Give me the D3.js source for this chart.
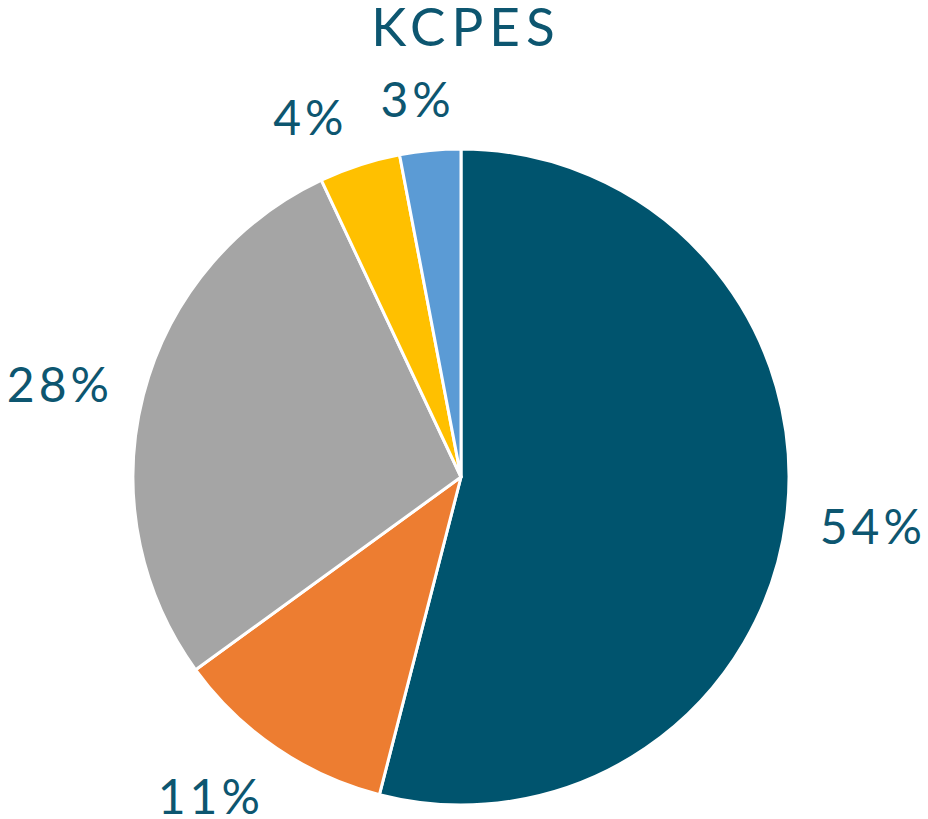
<!DOCTYPE html>
<html><head><meta charset="utf-8">
<script src="https://cdn.jsdelivr.net/npm/d3@7"></script>
<style>html,body{margin:0;padding:0;background:#fff;}svg{display:block;}</style>
</head><body>
<svg id="chart" width="928" height="819"></svg>
<script>
const title = "KCPES";
const categories = ["A", "B", "C", "D", "E"];
const values = [54, 11, 28, 4, 3];
const labels = ["54%", "11%", "28%", "4%", "3%"];
const colors = ["#00546e", "#ed7d31", "#a5a5a5", "#ffc000", "#5b9bd5"];

// layout-only tweaks for label placement (px), mimicking the original's collision handling
const labelNudge = [[0, 0], [-20, 1], [-3, 2], [-30, 5], [-8, 4]];

const W = 928, H = 819;
const cx = 461, cy = 477, R = 328, gap = 32;
const textColor = "#0d5670";
const font = "Lato, 'Open Sans', sans-serif";

const svg = d3.select("#chart");
svg.append("text").attr("x", 466).attr("y", 46).attr("text-anchor", "middle")
  .attr("font-family", font).attr("font-size", 53).attr("font-weight", 400).attr("letter-spacing", 6)
  .attr("fill", textColor).text(title);

const data = categories.map((c, i) => ({c, v: values[i], label: labels[i], color: colors[i], i}));
const pie = d3.pie().value(d => d.v).sort(null);
const arc = d3.arc().innerRadius(0).outerRadius(R);
const g = svg.append("g").attr("transform", `translate(${cx},${cy})`);
const arcs = pie(data);
g.selectAll("path").data(arcs).join("path")
  .attr("d", arc).attr("fill", d => d.data.color)
  .attr("stroke", "#fff").attr("stroke-width", 3).attr("stroke-linejoin", "round");

const lab = g.selectAll("text.lab").data(arcs).join("text").attr("class", "lab")
  .attr("font-family", font).attr("font-size", 48).attr("font-weight", 400).attr("letter-spacing", 4)
  .attr("fill", textColor)
  .attr("text-anchor", "middle").attr("dominant-baseline", "central")
  .text(d => d.data.label);
lab.each(function(d) {
  const a = (d.startAngle + d.endAngle) / 2;
  const bb = this.getBBox();
  const s = Math.sin(a), c = -Math.cos(a);
  const px = (R + gap) * s, py = (R + gap) * c;
  const n = labelNudge[d.data.i];
  const x = px + s * bb.width / 2 + n[0] + 2, y = py + c * bb.height * 0.42 + n[1];
  d3.select(this).attr("x", x).attr("y", y);
});
</script>
</body></html>
